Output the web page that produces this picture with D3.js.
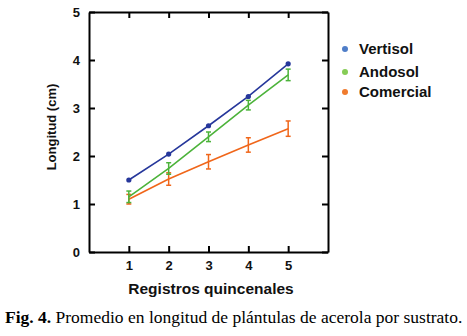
<!DOCTYPE html>
<html>
<head>
<meta charset="utf-8">
<script src="https://cdn.jsdelivr.net/npm/d3@7"></script>
<style>
  body { margin: 0; background: #fff; }
  svg text { font-family: "Liberation Sans", Arial, sans-serif; }
</style>
</head>
<body>
<div id="chart"></div>
<script>
// data
var registros = [1, 2, 3, 4, 5];
var vertisol = [1.50, 2.04, 2.63, 3.24, 3.92];
var andosol = [1.15, 1.74, 2.40, 3.06, 3.69];
var andosolErr = [0.12, 0.12, 0.10, 0.10, 0.12];
var comercial = [1.10, 1.52, 1.88, 2.23, 2.57];
var comercialErr = [0.10, 0.13, 0.15, 0.15, 0.16];
var yTicks = [0, 1, 2, 3, 4, 5];

var series = [
  { name: "Vertisol", values: vertisol, err: null, line: "#26379b", dot: "#4f7ec8" },
  { name: "Andosol", values: andosol, err: andosolErr, line: "#4cb33a", dot: "#86cc56" },
  { name: "Comercial", values: comercial, err: comercialErr, line: "#f0661a", dot: "#f07b2e" }
];

var width = 467, height = 336;
var pLeft = 89, pRight = 328, pTop = 12, pBottom = 252;

var svg = d3.select("#chart").append("svg")
  .attr("width", width)
  .attr("height", height);

var x = d3.scaleLinear().domain([0, 6]).range([pLeft, pRight]);
var y = d3.scaleLinear().domain([0, 5]).range([pBottom, pTop]);
var fmt = d3.format("d");

// frame with inward ticks on all four sides
svg.append("g")
  .attr("transform", `translate(0,${pBottom})`)
  .call(d3.axisBottom(x).tickValues(registros).tickFormat(fmt).tickSizeInner(-6).tickSizeOuter(0).tickPadding(9))
  .call(g => g.selectAll("text").attr("font-size", "13px").attr("font-weight", "bold").attr("fill", "#111"));

svg.append("g")
  .attr("transform", `translate(0,${pTop})`)
  .call(d3.axisTop(x).tickValues(registros).tickSizeInner(-6).tickSizeOuter(0).tickFormat(""));

svg.append("g")
  .attr("transform", `translate(${pLeft},0)`)
  .call(d3.axisLeft(y).tickValues(yTicks).tickFormat(fmt).tickSizeInner(-6).tickSizeOuter(0).tickPadding(9))
  .call(g => g.selectAll("text").attr("font-size", "13px").attr("font-weight", "bold").attr("fill", "#111"));

svg.append("g")
  .attr("transform", `translate(${pRight},0)`)
  .call(d3.axisRight(y).tickValues(yTicks).tickSizeInner(-6).tickSizeOuter(0).tickFormat(""));

svg.selectAll(".domain").attr("stroke", "#000").attr("stroke-width", 2);
svg.selectAll(".tick line").attr("stroke", "#000").attr("stroke-width", 2);

var line = d3.line()
  .x((d, i) => x(registros[i]))
  .y(d => y(d));

series.slice().reverse().forEach(s => {
  svg.append("path")
    .datum(s.values)
    .attr("fill", "none")
    .attr("stroke", s.line)
    .attr("stroke-width", 1.6)
    .attr("d", line);

  if (s.err) {
    var eb = svg.append("g");
    s.values.forEach((v, i) => {
      var cx = x(registros[i]);
      eb.append("line")
        .attr("x1", cx).attr("x2", cx)
        .attr("y1", y(v - s.err[i])).attr("y2", y(v + s.err[i]))
        .attr("stroke", s.line).attr("stroke-width", 1.5);
      [v - s.err[i], v + s.err[i]].forEach(e => {
        eb.append("line")
          .attr("x1", cx - 2.5).attr("x2", cx + 2.5)
          .attr("y1", y(e)).attr("y2", y(e))
          .attr("stroke", s.line).attr("stroke-width", 1.5);
      });
    });
  } else {
    svg.append("g").selectAll("circle")
      .data(s.values)
      .enter().append("circle")
      .attr("cx", (d, i) => x(registros[i]))
      .attr("cy", d => y(d))
      .attr("r", 2.6)
      .attr("fill", s.line);
  }
});

// legend
var legendY = [49, 72, 92];
var legend = svg.selectAll(".legend")
  .data(series)
  .enter().append("g")
  .attr("class", "legend")
  .attr("transform", (d, i) => `translate(345,${legendY[i]})`);

legend.append("circle")
  .attr("r", 3)
  .attr("fill", d => d.dot);

legend.append("text")
  .attr("x", 14)
  .attr("dy", "0.36em")
  .attr("font-size", "15px")
  .attr("font-weight", "bold")
  .attr("fill", "#111")
  .text(d => d.name);

// axis titles
svg.append("text")
  .attr("transform", `translate(56,127) rotate(-90)`)
  .attr("text-anchor", "middle")
  .attr("font-size", "13px")
  .attr("font-weight", "bold")
  .attr("fill", "#111")
  .text("Longitud (cm)");

svg.append("text")
  .attr("x", 211)
  .attr("y", 294)
  .attr("text-anchor", "middle")
  .attr("font-size", "15.5px")
  .attr("font-weight", "bold")
  .attr("fill", "#111")
  .text("Registros quincenales");

// caption
var cap = svg.append("text")
  .attr("x", 5)
  .attr("y", 323)
  .attr("font-size", "17.5px")
  .style("font-family", "'Liberation Serif', 'Times New Roman', serif")
  .attr("fill", "#000");
cap.append("tspan").attr("font-weight", "bold").text("Fig. 4.");
cap.append("tspan").text(" Promedio en longitud de plántulas de acerola por sustrato.");
</script>
</body>
</html>
